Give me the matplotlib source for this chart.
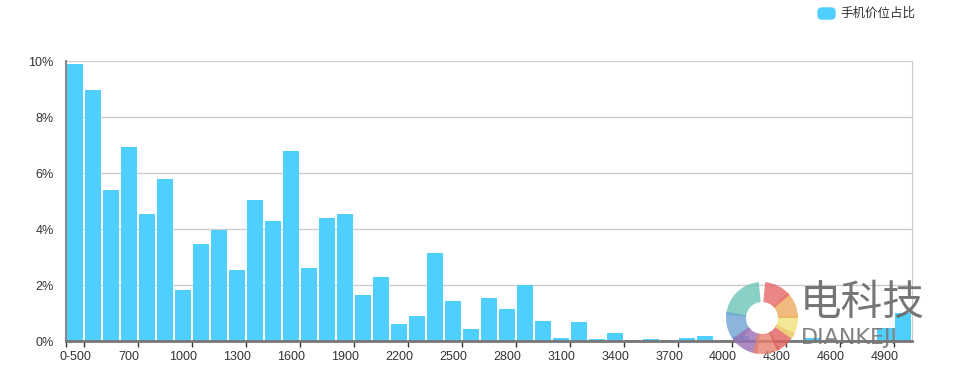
import numpy as np
import matplotlib.pyplot as plt
from matplotlib.patches import FancyBboxPatch, Wedge

# price buckets: "0-500", then 500, 600, ... 5000
categories = ["0-500"] + [str(v) for v in range(500, 5100, 100)]
share = [9.88, 8.96, 5.39, 6.93, 4.54, 5.79, 1.82, 3.46, 3.96, 2.54,
         5.04, 4.29, 6.79, 2.61, 4.39, 4.54, 1.64, 2.29, 0.61, 0.89,
         3.14, 1.43, 0.43, 1.54, 1.14, 1.99, 0.71, 0.11, 0.68, 0.07,
         0.29, 0.04, 0.07, 0.04, 0.11, 0.18, 0.03, 0.18, 0.05, 0.04,
         0.05, 0.10, 0.04, 0.05, 0.04, 0.46, 1.00]
y_ticks = [0, 2, 4, 6, 8, 10]
label_step = 3

bar_color = "#4fcffe"
W, H = 956, 374

plt.rcParams['font.family'] = ['Liberation Sans', 'Noto Sans CJK SC', 'DejaVu Sans']

fig = plt.figure(figsize=(W / 100, H / 100), dpi=100)
ax = fig.add_axes([66 / W, (H - 341) / H, (912 - 66) / W, (341 - 61) / H])

x = np.arange(len(categories))
ax.bar(x, share, width=0.85, color=bar_color, zorder=2)

ax.set_xlim(-0.5, len(categories) - 0.5)
ax.set_ylim(0, 10)

# y axis
ax.set_yticks(y_ticks)
ax.set_yticklabels([f"{v}%" for v in y_ticks], fontsize=9, color="#333333")
ax.tick_params(axis="y", length=0, pad=9)
ax.grid(axis="y", color="#cccccc", linewidth=1, zorder=0)

# x axis: labels on every 3rd category, tick marks on the boundaries
lab_idx = x[::label_step]
ax.set_xticks(lab_idx)
ax.set_xticklabels([categories[i] for i in lab_idx], fontsize=9, color="#333333")
ax.tick_params(axis="x", length=0, pad=7)
ax.set_xticks(list(lab_idx + 0.5) + [-0.5], minor=True)
ax.tick_params(axis="x", which="minor", length=4, width=1, color="#333333")

ax.spines["top"].set_visible(False)
ax.spines["right"].set_color("#cccccc")
ax.spines["left"].set_color("#888888")
ax.spines["left"].set_linewidth(1.5)
ax.spines["bottom"].set_color("#777777")
ax.spines["bottom"].set_linewidth(2)

# overlay in pixel coordinates for legend and watermark
ov = fig.add_axes([0, 0, 1, 1], facecolor="none")
ov.set_xlim(0, W)
ov.set_ylim(0, H)
ov.axis("off")

ov.add_patch(FancyBboxPatch((818, H - 19), 17, 11, boxstyle="round,pad=0,rounding_size=4",
                            color=bar_color))
ov.text(840, H - 13.5, "手机价位占比", fontsize=9, color="#333333", va="center",
        family=["Noto Sans CJK SC", "DejaVu Sans"])

# watermark logo
cx, cy, r = 762, H - 318, 36
petals = [(95, 175, "#6cc5b8"), (170, 225, "#6fa3d2"), (215, 262, "#9a6fb5"),
          (255, 300, "#e8806e"), (295, 335, "#e0605f"), (325, 5, "#eee27a"),
          (0, 45, "#eeaa5f"), (40, 85, "#e56868")]
for a1, a2, c in petals:
    ov.add_patch(Wedge((cx, cy), r, a1, a2, width=20, color=c, alpha=0.8, lw=0))
ov.text(800, H - 303, "电科技", fontsize=30, color="#666666", va="center",
        family=["Noto Sans CJK SC", "DejaVu Sans"], alpha=0.9)
ov.text(801, H - 344, "DIANKEJI", fontsize=16, color="#777777", va="baseline",
        family=["DejaVu Sans"], alpha=0.9)

fig.savefig("out.png", dpi=100)
